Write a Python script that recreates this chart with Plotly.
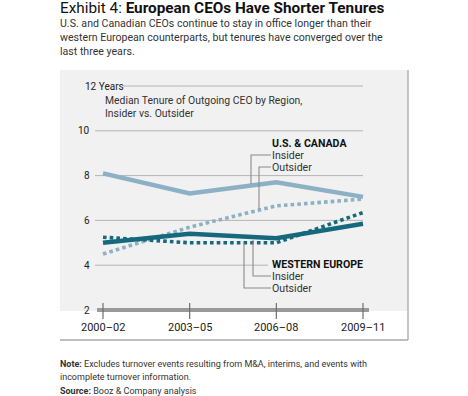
import plotly.graph_objects as go

# ---- data ----
periods = ["2000–02", "2003–05", "2006–08", "2009–11"]
us_insider = [8.1, 7.2, 7.7, 7.05]
us_outsider = [4.5, 5.7, 6.65, 6.95]
we_insider = [5.0, 5.4, 5.2, 5.85]
we_outsider = [5.25, 5.0, 5.0, 6.35]
y_ticks = [2, 4, 6, 8, 10, 12]
y_tick_labels = ["2", "4", "6", "8", "10", "12 Years"]

W, H = 468, 396
X0PX, DXPX = 103.0, 86.67
Y2PX, PPY = 310.0, 22.4
FONT = "Roboto"
LIGHT = "#8cb0c4"
DARK = "#16697c"
PANEL = "#f1f1f1"
GRID = "#b4b4b4"
LEAD = "#8a8a8a"


def px2x(px):
    return (px - X0PX) / DXPX


def py2y(py):
    return 2 + (Y2PX - py) / PPY


def pxp(px):
    return px / W


def pyp(py):
    return 1 - py / H


xs = list(range(len(periods)))
fig = go.Figure()
DOT = "3.6px,3.1px"
fig.add_trace(go.Scatter(x=xs, y=us_outsider, mode="lines",
                         line=dict(color=LIGHT, width=3.6, dash=DOT), hoverinfo="skip"))
fig.add_trace(go.Scatter(x=xs, y=we_outsider, mode="lines",
                         line=dict(color=DARK, width=3.6, dash=DOT), hoverinfo="skip"))
fig.add_trace(go.Scatter(x=xs, y=us_insider, mode="lines",
                         line=dict(color=LIGHT, width=4.5), hoverinfo="skip"))
fig.add_trace(go.Scatter(x=xs, y=we_insider, mode="lines",
                         line=dict(color=DARK, width=4.5), hoverinfo="skip"))

shapes = []
# panel background
shapes.append(dict(type="rect", xref="x", yref="y", x0=px2x(60), x1=px2x(408),
                   y0=py2y(311), y1=py2y(70), fillcolor=PANEL, line=dict(width=0), layer="below"))
# border right & bottom
shapes.append(dict(type="line", xref="x", yref="y", x0=px2x(408), x1=px2x(408),
                   y0=py2y(70), y1=py2y(340), line=dict(color="#a8a8a8", width=1.3), layer="below"))
shapes.append(dict(type="line", xref="x", yref="y", x0=px2x(60), x1=px2x(408),
                   y0=py2y(340), y1=py2y(340), line=dict(color="#a8a8a8", width=1.3), layer="below"))
# gridlines
for v in y_ticks[1:]:
    start = 123 if v == 12 else 95
    end = 268 if v == 4 else None
    shapes.append(dict(type="line", xref="x", yref="y", x0=px2x(start),
                       x1=px2x(end) if end else xs[-1],
                       y0=v, y1=v, line=dict(color=GRID, width=1), layer="below"))
# base axis
shapes.append(dict(type="line", xref="x", yref="y", x0=px2x(97), x1=px2x(369),
                   y0=2, y1=2, line=dict(color="#9a9a9a", width=4), layer="below"))
for i in xs:
    shapes.append(dict(type="line", xref="x", yref="y", x0=i, x1=i,
                       y0=py2y(303), y1=py2y(319), line=dict(color="#6e6e6e", width=1.2), layer="below"))

# leader lines
def leader(xv, ytext, yline, xend=271):
    shapes.append(dict(type="path", xref="x", yref="y",
                       path=f"M {px2x(xend)},{py2y(ytext)} L {px2x(xv)},{py2y(ytext)} L {px2x(xv)},{py2y(yline)}",
                       line=dict(color=LEAD, width=1.1), layer="above"))

leader(251, 155, 184)
leader(259, 167, 209)
leader(253, 276, 240)
leader(244, 288, 243)

ann = []
# y tick labels
for v, t in zip(y_ticks, y_tick_labels):
    if v == 12:
        ann.append(dict(x=px2x(83), y=v, xref="x", yref="y", text=t, showarrow=False,
                        xanchor="left", yanchor="middle", font=dict(family=FONT, size=10, color="#222")))
    else:
        ann.append(dict(x=px2x(92), y=v, xref="x", yref="y", text=t, showarrow=False,
                        xanchor="right", yanchor="middle", font=dict(family=FONT, size=10, color="#222")))
# x tick labels
for i, t in zip(xs, periods):
    ann.append(dict(x=i, y=py2y(327), xref="x", yref="y", text=t, showarrow=False,
                    xanchor="center", yanchor="middle", font=dict(family=FONT, size=11, color="#222")))


def txt(px, py, text, size, color="#222", anchor="left"):
    d = dict(x=pxp(px), y=pyp(py), xref="paper", yref="paper", text=text, showarrow=False,
             xanchor=anchor, yanchor="middle", borderpad=0,
             font=dict(family=FONT, size=size, color=color))
    ann.append(d)


txt(59, 8, "Exhibit 4: <b>European CEOs Have Shorter Tenures</b>", 15.3, "#111")
txt(59, 24, "U.S. and Canadian CEOs continue to stay in office longer than their", 10.6, "#333")
txt(59, 38, "western European counterparts, but tenures have converged over the", 10.6, "#333")
txt(59, 52, "last three years.", 10.6, "#333")

txt(104, 101, "Median Tenure of Outgoing CEO by Region,", 10.4, "#333")
txt(104, 114, "Insider vs. Outsider", 10.4, "#333")

txt(271, 143, "<b>U.S. &amp; CANADA</b>", 10.6, "#111")
txt(271, 155, "Insider", 10.6, "#333")
txt(271, 167, "Outsider", 10.6, "#333")
txt(271, 264, "<b>WESTERN EUROPE</b>", 10.6, "#111")
txt(271, 276, "Insider", 10.6, "#333")
txt(271, 288, "Outsider", 10.6, "#333")

txt(59, 364, "<b>Note:</b> Excludes turnover events resulting from M&amp;A, interims, and events with", 9, "#333")
txt(59, 377, "incomplete turnover information.", 9, "#333")
txt(59, 391, "<b>Source:</b> Booz &amp; Company analysis", 9, "#333")

fig.update_layout(
    width=W, height=H,
    margin=dict(l=0, r=0, t=0, b=0),
    paper_bgcolor="white", plot_bgcolor="white",
    showlegend=False,
    xaxis=dict(range=[px2x(0), px2x(W)], visible=False, fixedrange=True),
    yaxis=dict(range=[py2y(H), py2y(0)], visible=False, fixedrange=True),
    shapes=shapes, annotations=ann,
)
fig.write_html("out.html", config={"displayModeBar": False},
               post_script="document.body.style.margin='0';document.body.style.overflow='hidden';")
